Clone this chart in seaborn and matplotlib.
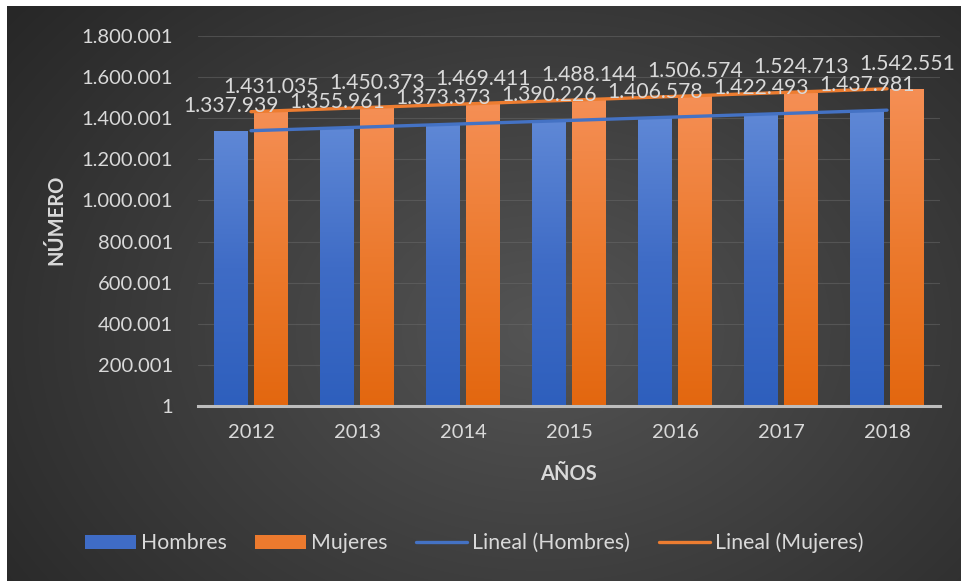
import numpy as np
import pandas as pd
import matplotlib
matplotlib.use("Agg")
import matplotlib.pyplot as plt
import seaborn as sns
from matplotlib.patches import Patch
from matplotlib.lines import Line2D
from matplotlib.colors import LinearSegmentedColormap

# --- data ---
years = ["2012", "2013", "2014", "2015", "2016", "2017", "2018"]
hombres = [1337939, 1355961, 1373373, 1390226, 1406578, 1422493, 1437981]
mujeres = [1431035, 1450373, 1469411, 1488144, 1506574, 1524713, 1542551]
series_names = ["Hombres", "Mujeres"]
y_ticks = [1, 200001, 400001, 600001, 800001, 1000001, 1200001, 1400001, 1600001, 1800001]

BLUE = "#4472c4"
ORANGE = "#ed7d31"
TEXT = "#d9d9d9"


def fmt(v):
    return f"{v:,}".replace(",", ".")


df = pd.DataFrame({
    "Año": years * 2,
    "Serie": [series_names[0]] * len(years) + [series_names[1]] * len(years),
    "Valor": hombres + mujeres,
})

sns.set_theme(style="dark")
plt.rcParams["font.family"] = ["Lato", "DejaVu Sans"]

W, H = 962, 581
fig = plt.figure(figsize=(W / 100, H / 100), dpi=100)

# dark radial background with a thin white margin on the left and top
bg = fig.add_axes([0, 0, 1, 1], zorder=-10)
bg.axis("off")
yy, xx = np.mgrid[0:H, 0:W]
r = np.sqrt(((xx - 540) / 560.0) ** 2 + ((yy - 330) / 420.0) ** 2)
val = np.clip(0.33 - 0.145 * r, 0.14, 1)
img = np.dstack([val, val, val])
img[:, :7] = 1.0
img[:6, :] = 1.0
bg.imshow(img, extent=[0, 1, 0, 1], aspect="auto", origin="upper")

ax = fig.add_axes([198 / W, 175 / H, 742 / W, 370 / H])
ax.set_facecolor("none")

sns.barplot(data=df, x="Año", y="Valor", hue="Serie", order=years,
            hue_order=series_names, palette=[BLUE, ORANGE],
            width=0.76, gap=0.16, legend=False, ax=ax, zorder=2)

ax.set_xlim(-0.5, 6.5)
ax.set_ylim(1, 1800001)

# vertical gradient fill inside each bar
grad = {
    0: LinearSegmentedColormap.from_list("b", ["#2e5fbd", "#3f6cc6", "#5f88d6"]),
    1: LinearSegmentedColormap.from_list("o", ["#e3670f", "#ec7a2e", "#f58f55"]),
}
ramp = np.linspace(0, 1, 256).reshape(-1, 1)
for ci, cont in enumerate(ax.containers):
    for bar in cont:
        x0, y0 = bar.get_x(), bar.get_y()
        w, h = bar.get_width(), bar.get_height()
        im = ax.imshow(ramp, cmap=grad[ci], origin="lower", aspect="auto",
                       extent=[x0, x0 + w, y0, y0 + h], zorder=2.1)
        im.set_clip_path(bar)
        bar.set_facecolor("none")
        bar.set_edgecolor("none")

ax.set_xlim(-0.5, 6.5)
ax.set_ylim(1, 1800001)

# linear trend lines
xs = np.arange(len(years))
for vals, col in [(hombres, BLUE), (mujeres, ORANGE)]:
    m, b = np.polyfit(xs, vals, 1)
    ax.plot([xs[0], xs[-1]], [m * xs[0] + b, m * xs[-1] + b], color=col,
            lw=2.4, solid_capstyle="round", zorder=3)

# value labels
for cont, vals in zip(ax.containers, [hombres, mujeres]):
    ax.bar_label(cont, labels=[fmt(v) for v in vals], padding=11,
                 color=TEXT, fontsize=15.2, zorder=5)

# axes styling
ax.set_yticks(y_ticks)
ax.set_yticklabels([fmt(v) for v in y_ticks])
ax.tick_params(axis="y", colors=TEXT, labelsize=14.5, length=0, pad=18)
ax.tick_params(axis="x", colors=TEXT, labelsize=14.5, length=0, pad=13)
ax.grid(axis="y", color="#6a6a6a", lw=0.8, alpha=0.5, zorder=0)
ax.grid(axis="x", visible=False)
for s in ["left", "right", "top"]:
    ax.spines[s].set_visible(False)
ax.spines["bottom"].set_color("#bdbdbd")
ax.spines["bottom"].set_linewidth(2.2)
ax.spines["bottom"].set_zorder(4)
ax.set_xlabel("")
ax.set_ylabel("")

fig.text(56 / W, 1 - 220 / H, "NÚMERO", rotation=90, ha="center", va="center",
         color=TEXT, fontsize=14.5, fontweight="bold")
fig.text(568 / W, 1 - 474 / H, "AÑOS", ha="center", va="center",
         color=TEXT, fontsize=14.5, fontweight="bold")

handles = [
    Patch(facecolor="#3f6cc6", edgecolor="none"),
    Patch(facecolor="#ec7a2e", edgecolor="none"),
    Line2D([], [], color=BLUE, lw=2.4, solid_capstyle="round"),
    Line2D([], [], color=ORANGE, lw=2.4, solid_capstyle="round"),
]
labels = ["Hombres", "Mujeres", "Lineal (Hombres)", "Lineal (Mujeres)"]
leg = fig.legend(handles, labels, loc="center", bbox_to_anchor=(474 / W, 1 - 543 / H),
                 ncol=4, frameon=False, fontsize=15.3, handlelength=2.4,
                 handleheight=0.68, handletextpad=0.23, columnspacing=1.35)
for t in leg.get_texts():
    t.set_color(TEXT)

fig.savefig("out.png", dpi=100)
